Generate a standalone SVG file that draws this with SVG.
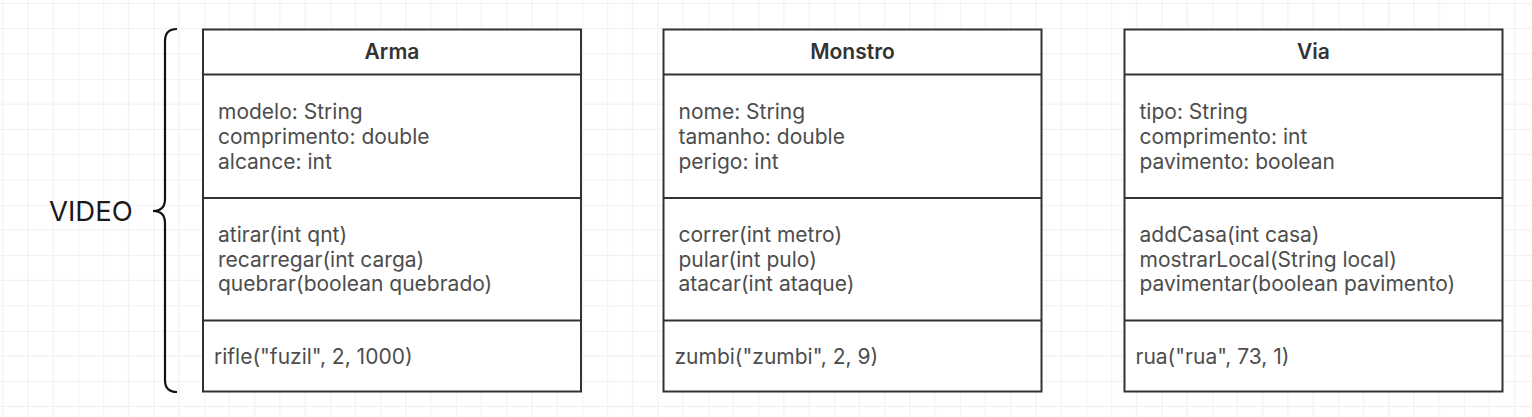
<svg xmlns="http://www.w3.org/2000/svg" width="1532" height="417" viewBox="0 0 1532 417">
  <defs>
    <pattern id="grid" patternUnits="userSpaceOnUse" x="78.3" y="78.9" width="126" height="126">
      <rect x="-0.5" y="0" width="1" height="126" fill="#e4e4e4"/>
      <rect x="0" y="-0.5" width="126" height="1" fill="#e4e4e4"/>
      <rect x="24.7" y="0" width="1" height="126" fill="#efefef"/>
      <rect x="49.9" y="0" width="1" height="126" fill="#efefef"/>
      <rect x="75.1" y="0" width="1" height="126" fill="#efefef"/>
      <rect x="100.3" y="0" width="1" height="126" fill="#efefef"/>
      <rect x="0" y="24.7" width="126" height="1" fill="#efefef"/>
      <rect x="0" y="49.9" width="126" height="1" fill="#efefef"/>
      <rect x="0" y="75.1" width="126" height="1" fill="#efefef"/>
      <rect x="0" y="100.3" width="126" height="1" fill="#efefef"/>
    </pattern>
  </defs>
  <style>
    .box { fill: #ffffff; stroke: #333333; stroke-width: 2; }
    .div { stroke: #333333; stroke-width: 2; }
    .title { font-family: Inter, "Liberation Sans", sans-serif; font-weight: 600; font-size: 21px; fill: #333333; text-anchor: middle; }
    .txt { font-family: Inter, "Liberation Sans", sans-serif; font-size: 21px; fill: #4d4d4d; }
    .label { font-family: Inter, "Liberation Sans", sans-serif; font-size: 27.5px; fill: #1a1a1a; }
    .brace { fill: none; stroke: #111111; stroke-width: 2.2; }
  </style>
  <rect x="0" y="0" width="1532" height="417" fill="#ffffff"/>
  <rect x="0" y="0" width="1532" height="417" fill="url(#grid)"/>

  <g id="video">
    <text class="label" x="49" y="221">VIDEO</text>
    <path class="brace" d="M177,29 Q165,29 165,41 L165,199 Q165,211 153,211 Q165,211 165,223 L165,380 Q165,392 177,392"/>
  </g>

  <g id="arma">
    <rect class="box" x="203" y="29.5" width="378" height="362"/>
    <line class="div" x1="203" y1="74.5" x2="581" y2="74.5"/>
    <line class="div" x1="203" y1="198" x2="581" y2="198"/>
    <line class="div" x1="203" y1="320.5" x2="581" y2="320.5"/>
    <text class="title" x="392" y="59">Arma</text>
    <text class="txt" x="218" y="118.5">modelo: String</text>
    <text class="txt" x="218" y="143.5">comprimento: double</text>
    <text class="txt" x="218" y="168.5">alcance: int</text>
    <text class="txt" x="218" y="241.5">atirar(int qnt)</text>
    <text class="txt" x="218" y="266.5">recarregar(int carga)</text>
    <text class="txt" x="218" y="291">quebrar(boolean quebrado)</text>
    <text class="txt" x="214" y="364">rifle("fuzil", 2, 1000)</text>
  </g>

  <g id="monstro">
    <rect class="box" x="663.5" y="29.5" width="378" height="362"/>
    <line class="div" x1="663.5" y1="74.5" x2="1041.5" y2="74.5"/>
    <line class="div" x1="663.5" y1="198" x2="1041.5" y2="198"/>
    <line class="div" x1="663.5" y1="320.5" x2="1041.5" y2="320.5"/>
    <text class="title" x="852.5" y="59">Monstro</text>
    <text class="txt" x="678.5" y="118.5">nome: String</text>
    <text class="txt" x="678.5" y="143.5">tamanho: double</text>
    <text class="txt" x="678.5" y="168.5">perigo: int</text>
    <text class="txt" x="678.5" y="241.5">correr(int metro)</text>
    <text class="txt" x="678.5" y="266.5">pular(int pulo)</text>
    <text class="txt" x="678.5" y="291">atacar(int ataque)</text>
    <text class="txt" x="674.5" y="364">zumbi("zumbi", 2, 9)</text>
  </g>

  <g id="via">
    <rect class="box" x="1124.5" y="29.5" width="378" height="362"/>
    <line class="div" x1="1124.5" y1="74.5" x2="1502.5" y2="74.5"/>
    <line class="div" x1="1124.5" y1="198" x2="1502.5" y2="198"/>
    <line class="div" x1="1124.5" y1="320.5" x2="1502.5" y2="320.5"/>
    <text class="title" x="1313.5" y="59">Via</text>
    <text class="txt" x="1139.5" y="118.5">tipo: String</text>
    <text class="txt" x="1139.5" y="143.5">comprimento: int</text>
    <text class="txt" x="1139.5" y="168.5">pavimento: boolean</text>
    <text class="txt" x="1139.5" y="241.5">addCasa(int casa)</text>
    <text class="txt" x="1139.5" y="266.5">mostrarLocal(String local)</text>
    <text class="txt" x="1139.5" y="291">pavimentar(boolean pavimento)</text>
    <text class="txt" x="1135.5" y="364">rua("rua", 73, 1)</text>
  </g>

  <g id="connectors"></g>
</svg>
